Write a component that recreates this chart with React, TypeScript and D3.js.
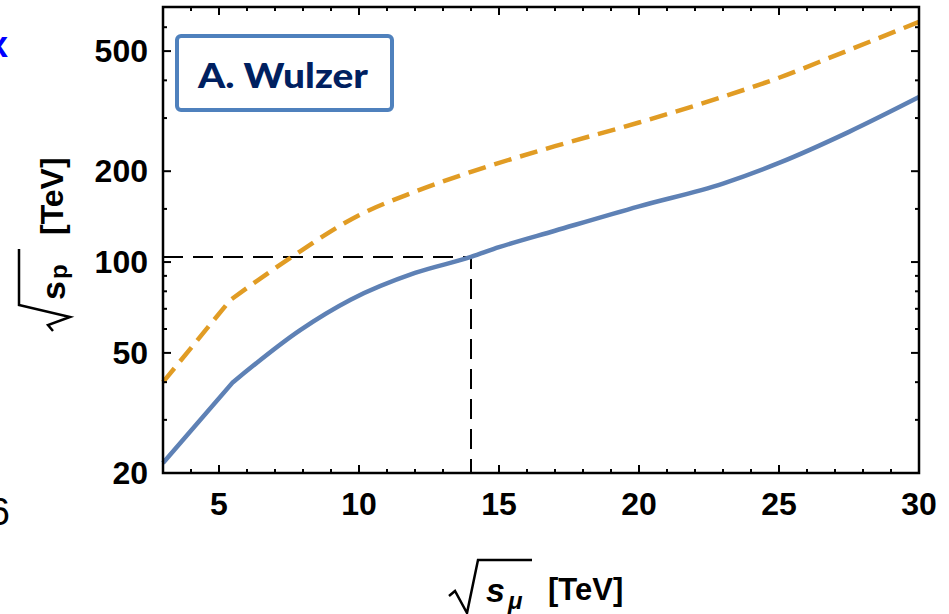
import React, { useEffect, useRef } from "react";
import * as d3 from "d3";

// sqrt(s_mu) in TeV
const muonX = [3, 5.5, 7.9, 9.7, 12, 14, 15, 17, 20, 23, 25, 27.5, 30];
// equivalent proton collider energy (solid blue)
const protonA = [21.6, 40, 59.5, 75, 92, 104, 112, 127, 153, 182, 213, 270, 352];

const muonX2 = [3, 5.4, 7.6, 10, 12, 14, 17, 20, 23, 25, 27, 30];
// second estimate (dashed orange)
const protonB = [40, 74.8, 104, 143, 171, 199, 242, 290, 353, 408, 483, 625];

const xMajor = [5, 10, 15, 20, 25, 30];
const yMajor = [20, 50, 100, 200, 500];
const yMinor = [30, 40, 60, 70, 80, 90, 150, 300, 400, 600];

const refX = 14;
const refY = 104;

export default function App() {
  const svgRef = useRef<SVGSVGElement>(null);

  useEffect(() => {
    const svg = d3.select(svgRef.current);
    svg.selectAll("*").remove();

    const left = 163;
    const right = 919;
    const top = 7;
    const bottom = 473;

    const x = d3.scaleLinear().domain([3, 30]).range([left, right]);
    const y = d3.scaleLog().domain([20, 700]).range([bottom, top]);

    const font = "'Liberation Sans', Arial, sans-serif";

    // --- REFERENCE DASHES ---
    svg
      .append("path")
      .attr("d", `M${x(3)},${y(refY)} H${x(refX)} V${bottom}`)
      .attr("fill", "none")
      .attr("stroke", "#000")
      .attr("stroke-width", 2)
      .attr("stroke-dasharray", "20,10");

    // straight piece up to the kink, smooth after it
    const straight = d3
      .line<[number, number]>()
      .x((d) => x(d[0]))
      .y((d) => y(d[1]));
    const smooth = straight.curve(d3.curveMonotoneX);
    const curvePath = (xs: number[], ys: number[]) => {
      const pts = xs.map((v, i) => [v, ys[i]] as [number, number]);
      const head = d3.line<[number, number]>().x((d) => x(d[0])).y((d) => y(d[1]))(pts.slice(0, 2)) || "";
      const tail = (smooth(pts.slice(1)) || "").replace(/^M[^LC]*/, "");
      return head + tail;
    };

    // --- CURVES ---
    svg
      .append("path")
      .attr("d", curvePath(muonX2, protonB))
      .attr("fill", "none")
      .attr("stroke", "#E19C24")
      .attr("stroke-width", 4.5)
      .attr("stroke-dasharray", "18,9");

    svg
      .append("path")
      .attr("d", curvePath(muonX, protonA))
      .attr("fill", "none")
      .attr("stroke", "#5E81B5")
      .attr("stroke-width", 4.5);

    // --- FRAME ---
    svg
      .append("rect")
      .attr("x", left)
      .attr("y", top)
      .attr("width", right - left)
      .attr("height", bottom - top)
      .attr("fill", "none")
      .attr("stroke", "#000")
      .attr("stroke-width", 2.5);

    // --- TICKS ---
    const ticks = svg.append("g").attr("stroke", "#000").attr("stroke-width", 2);
    d3.range(4, 30).forEach((v) => {
      const len = v % 5 === 0 ? 8 : 4;
      ticks.append("line").attr("x1", x(v)).attr("x2", x(v)).attr("y1", bottom).attr("y2", bottom - len);
      ticks.append("line").attr("x1", x(v)).attr("x2", x(v)).attr("y1", top).attr("y2", top + len);
    });
    [...yMajor, ...yMinor].forEach((v) => {
      const len = yMajor.includes(v) ? 8 : 4;
      ticks.append("line").attr("x1", left).attr("x2", left + len).attr("y1", y(v)).attr("y2", y(v));
      ticks.append("line").attr("x1", right).attr("x2", right - len).attr("y1", y(v)).attr("y2", y(v));
    });

    // --- TICK LABELS ---
    svg
      .append("g")
      .selectAll("text")
      .data(xMajor)
      .join("text")
      .attr("x", (d) => x(d))
      .attr("y", 515)
      .attr("text-anchor", "middle")
      .style("font-family", font)
      .style("font-weight", "bold")
      .style("font-size", "32px")
      .text((d) => d);

    svg
      .append("g")
      .selectAll("text")
      .data(yMajor)
      .join("text")
      .attr("x", 148)
      .attr("y", (d) => y(d) + 11)
      .attr("text-anchor", "end")
      .style("font-family", font)
      .style("font-weight", "bold")
      .style("font-size", "32px")
      .text((d) => d);

    // --- X TITLE ---
    const xt = svg.append("g");
    xt.append("path")
      .attr("d", "M449,596 L455,591 L467,613 L478,560 L532,560")
      .attr("fill", "none")
      .attr("stroke", "#000")
      .attr("stroke-width", 2.5);
    xt.append("text")
      .attr("x", 486)
      .attr("y", 602)
      .style("font-family", font)
      .style("font-weight", "bold")
      .style("font-style", "italic")
      .style("font-size", "34px")
      .text("s");
    xt.append("text")
      .attr("x", 508)
      .attr("y", 609)
      .style("font-family", font)
      .style("font-weight", "bold")
      .style("font-style", "italic")
      .style("font-size", "24px")
      .text("μ");
    xt.append("text")
      .attr("x", 548)
      .attr("y", 600)
      .style("font-family", font)
      .style("font-weight", "bold")
      .style("font-size", "31px")
      .text("[TeV]");

    // --- Y TITLE ---
    const yt = svg.append("g").attr("transform", "translate(50,243) rotate(-90)");
    yt.append("path")
      .attr("d", "M-88,3 L-82,-2 L-74,20 L-62,-31 L-6,-31")
      .attr("fill", "none")
      .attr("stroke", "#000")
      .attr("stroke-width", 2.5);
    yt.append("text")
      .attr("x", -57)
      .attr("y", 15)
      .style("font-family", font)
      .style("font-weight", "bold")
      .style("font-size", "34px")
      .text("s");
    yt.append("text")
      .attr("x", -36)
      .attr("y", 17)
      .style("font-family", font)
      .style("font-weight", "bold")
      .style("font-size", "24px")
      .text("p");
    yt.append("text")
      .attr("x", 8)
      .attr("y", 13)
      .style("font-family", font)
      .style("font-weight", "bold")
      .style("font-size", "32px")
      .text("[TeV]");

    // --- AUTHOR BOX ---
    svg
      .append("rect")
      .attr("x", 177)
      .attr("y", 36)
      .attr("width", 215)
      .attr("height", 74)
      .attr("rx", 4)
      .attr("fill", "#fff")
      .attr("stroke", "#4F81BD")
      .attr("stroke-width", 4);
    svg
      .append("text")
      .attr("x", 198)
      .attr("y", 88)
      .attr("textLength", 170)
      .attr("lengthAdjust", "spacingAndGlyphs")
      .style("font-family", "Lato, 'Open Sans', sans-serif")
      .style("font-weight", "900")
      .style("font-size", "35px")
      .style("fill", "#002060")
      .text("A. Wulzer");

    // --- CLIPPED SLIDE LEFTOVERS ---
    svg
      .append("text")
      .attr("x", -2)
      .attr("y", 57)
      .attr("text-anchor", "middle")
      .style("font-family", font)
      .style("font-weight", "bold")
      .style("font-size", "36px")
      .style("fill", "#0000ff")
      .text("x");
    svg
      .append("text")
      .attr("x", 10)
      .attr("y", 525)
      .attr("text-anchor", "end")
      .style("font-family", font)
      .style("font-size", "38px")
      .text("6");
  }, []);

  return (
    <svg
      ref={svgRef}
      width={949}
      height={614}
      style={{ position: "absolute", left: 0, top: 0, background: "#fff" }}
    ></svg>
  );
}
